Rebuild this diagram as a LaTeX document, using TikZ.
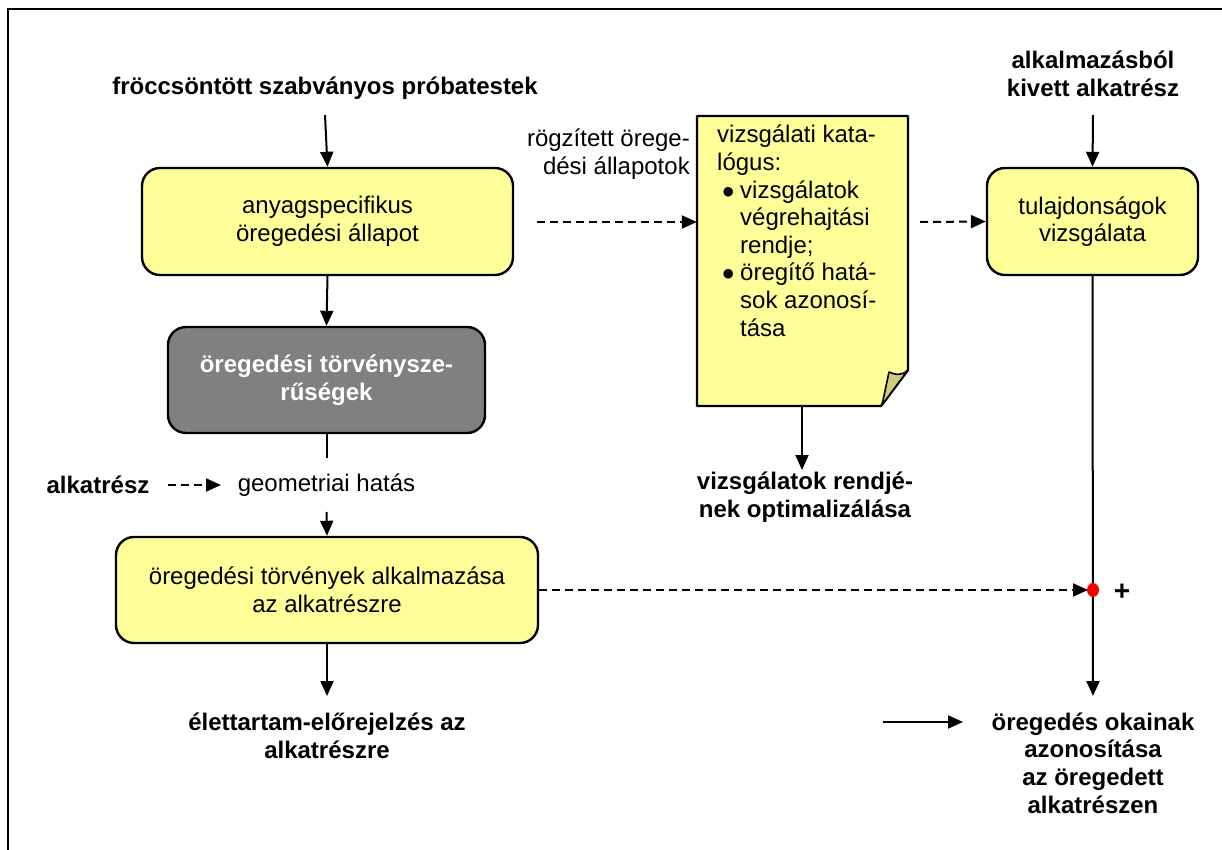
\documentclass[tikz,border=0pt]{standalone}
\usepackage{fontspec}
\setmainfont{Liberation Sans}
\newfontfamily\dejavu{DejaVu Sans}
\usetikzlibrary{arrows.meta}
\definecolor{boxyellow}{HTML}{FFFF99}
\definecolor{boxgray}{HTML}{808080}
\definecolor{foldcol}{HTML}{CCCC7A}
\newcommand{\blt}{\makebox[22pt][c]{\raisebox{3pt}{\fontsize{12.5}{12.5}\dejavu ●}}\hspace*{1pt}}
\begin{document}
\begin{tikzpicture}[x=1pt,y=-1pt,
  every node/.style={font=\fontsize{24}{27.6}\selectfont, inner sep=0pt, align=center},
  bold/.style={font=\fontsize{24}{27.6}\selectfont\bfseries},
  ybox/.style={draw, line width=2.4pt, rounded corners=18pt, fill=boxyellow},
  gbox/.style={draw, line width=2.4pt, rounded corners=18pt, fill=boxgray, text=white, font=\fontsize{24}{27.6}\selectfont\bfseries},
  arr/.style={-{Triangle[length=15pt,width=13pt]}, line width=2pt},
  darr/.style={arr, dash pattern=on 8pt off 5pt},
  plain/.style={line width=2pt}]
\useasboundingbox (0,0) rectangle (1222,850);
% frame
\draw[line width=2.6pt] (8,850) -- (8,9) -- (1222,9);

% left column
\node[bold] (t1) at (325,88) {fröccsöntött szabványos próbatestek};
\node[ybox, minimum width=371pt, minimum height=107pt] (b1) at (327.5,221.5) {anyagspecifikus\\öregedési állapot};
\node[gbox, minimum width=317pt, minimum height=106pt] (b2) at (326.5,380) {öregedési törvénysze-\\rűségek};
\coordinate (g1) at (326.5,458);
\node[bold] (alk) at (98,485) {alkatrész};
\coordinate (da1) at (168,485);
\coordinate (da2) at (221,485);
\node (geo) at (326.5,485) {geometriai hatás};
\coordinate (g2) at (326.5,512);
\node[ybox, minimum width=422pt, minimum height=106pt] (b3) at (327,590) {öregedési törvények alkalmazása\\az alkatrészre};
\coordinate (g3) at (327,696);
\node[bold] (elet) at (327,736) {élettartam-előrejelzés az\\alkatrészre};

\coordinate (t1a) at (325,115);
\draw[arr] (t1a) -- (b1.north);
\draw[arr] (b1.south) -- (b2.north);
\draw[plain] (b2.south) -- (g1);
\draw[darr] (da1) -- (da2);
\draw[arr] (g2) -- (b3.north);
\draw[arr] (b3.south) -- (g3);

% middle column
\node[anchor=east, align=right] (rog) at (690,154) {rögzített örege-\\dési állapotok};
\node[minimum width=211pt, minimum height=290pt] (note) at (802.5,261) {};
\fill[boxyellow] (697,116) -- (908,116) -- (908,370) -- (881,406) -- (697,406) -- cycle;
\draw[line width=2.4pt, line join=round] (881,406) -- (697,406) -- (697,116) -- (908,116) -- (908,370) -- cycle;
\fill[foldcol, draw=black, line width=1.6pt, line join=round] (908,370) .. controls (902,376) and (895,375) .. (889,372) -- (882,405) -- cycle;
\node[anchor=north west, align=left] (notetxt) at (717,125) {vizsgálati kata-\\lógus:\\\blt vizsgálatok\\\hspace*{23pt}végrehajtási\\\hspace*{23pt}rendje;\\\blt öregítő hatá-\\\hspace*{23pt}sok azonosí-\\\hspace*{23pt}tása};
\coordinate (da3) at (537,222);
\draw[darr] (da3) -- (da3 -| note.west);
\coordinate (n1) at (802,406);
\coordinate (n2) at (802,470);
\draw[arr] (n1) -- (n2);
\node[bold] (opt) at (805,497) {vizsgálatok rendjé-\\nek optimalizálása};

% right column
\node[bold] (t2) at (1093,74) {alkalmazásból\\kivett alkatrész};
\node[ybox, minimum width=211pt, minimum height=107pt] (b4) at (1092.5,221.5) {tulajdonságok\\vizsgálata};
\coordinate (t2a) at (1093,115);
\draw[arr] (t2a) -- (b4.north);
\coordinate (da4) at (920,222);
\draw[darr] (da4) -- (b4.west);
\coordinate (j) at (1093,590);
\coordinate (g4) at (1093,696);
\draw[arr] (b4.south) -- (g4);
\draw[darr, shorten >=5pt] (b3.east) -- (j);
\fill[red] (j) ellipse[x radius=6pt, y radius=7pt];
\node[font=\fontsize{28}{28}\selectfont\bfseries] (plus) at (1122,592) {+};
\coordinate (s1) at (883,722);
\coordinate (s2) at (963,722);
\draw[arr] (s1) -- (s2);
\node[bold] (ok) at (1093,763) {öregedés okainak\\azonosítása\\az öregedett\\alkatrészen};
\end{tikzpicture}
\end{document}
